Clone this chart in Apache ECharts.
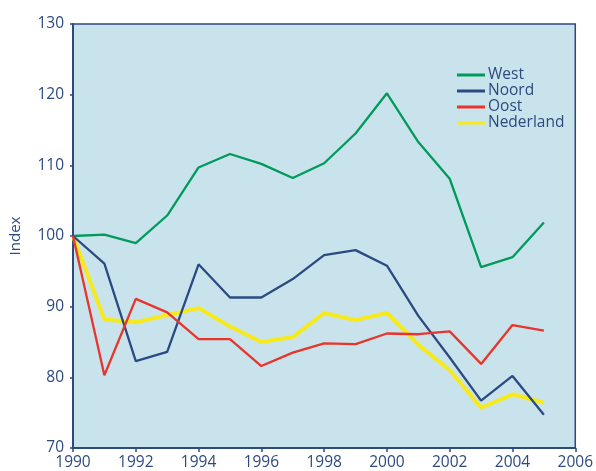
<!DOCTYPE html>
<html>
<head>
<meta charset="utf-8">
<script src="https://cdn.jsdelivr.net/npm/echarts@6/dist/echarts.min.js"></script>
<style>
    html, body { margin: 0; padding: 0; background: #fff; }
    #chart { width: 596px; height: 471px; }
</style>
</head>
<body>
<div id="chart"></div>
<script>
// jaren 1990 - 2005
const years = [1990, 1991, 1992, 1993, 1994, 1995, 1996, 1997, 1998, 1999, 2000, 2001, 2002, 2003, 2004, 2005]
const west = [100, 100.2, 99, 102.9, 109.7, 111.6, 110.2, 108.2, 110.3, 114.5, 120.2, 113.3, 108.1, 95.6, 97.0, 101.9]
const noord = [100, 96.1, 82.3, 83.6, 96.0, 91.3, 91.3, 93.9, 97.3, 98.0, 95.8, 88.7, 82.8, 76.7, 80.2, 74.7]
const oost = [100, 80.3, 91.1, 89.2, 85.4, 85.4, 81.6, 83.5, 84.8, 84.7, 86.2, 86.1, 86.5, 81.9, 87.4, 86.6]
const nederland = [100, 88.2, 87.8, 88.8, 89.8, 87.2, 85.0, 85.7, 89.1, 88.1, 89.1, 84.6, 81.0, 75.7, 77.6, 76.4]

const textColor = '#2d4a7f'
const axisColor = '#2d4a7f'

const toPairs = (vals) => vals.map((v, i) => [years[i], v])

const myChart = echarts.init(document.getElementById('chart'))
const option = {
    textStyle: { fontFamily: 'Open Sans' },
    legend: {
        orient: 'vertical',
        left: 452,
        top: 62,
        itemGap: 0,
        itemWidth: 28,
        itemHeight: 3,
        icon: 'rect',
        textStyle: { color: textColor, fontSize: 15.5, lineHeight: 16, padding: [0, 0, 0, -2] },
        data: ['West', 'Noord', 'Oost', 'Nederland']
    },
    grid: {
        left: 73,
        right: 19,
        top: 24,
        bottom: 23,
        show: true,
        backgroundColor: '#c9e3ec',
        borderColor: axisColor,
        borderWidth: 1.5
    },
    xAxis: {
        type: 'value',
        min: 1990,
        max: 2006,
        interval: 2,
        axisLine: { show: true, lineStyle: { color: axisColor, width: 2 } },
        axisTick: { show: true, length: 4, lineStyle: { color: axisColor, width: 1.5 } },
        axisLabel: { color: textColor, fontSize: 15.5, margin: 7, formatter: (v) => String(v) },
        splitLine: { show: false }
    },
    yAxis: {
        type: 'value',
        min: 70,
        max: 130,
        interval: 10,
        name: 'Index',
        nameLocation: 'middle',
        nameGap: 50,
        nameTextStyle: { color: textColor, fontSize: 15 },
        axisLine: { show: true, lineStyle: { color: axisColor, width: 2 } },
        axisTick: { show: true, length: 3, lineStyle: { color: axisColor, width: 1.5 } },
        axisLabel: { color: textColor, fontSize: 15.5, margin: 9 },
        splitLine: { show: false }
    },
    series: [
        {
            name: 'West',
            type: 'line',
            data: toPairs(west),
            showSymbol: false,
            itemStyle: { color: '#009a5a' },
            lineStyle: { color: '#009a5a', width: 2.3 }
        },
        {
            name: 'Noord',
            type: 'line',
            data: toPairs(noord),
            showSymbol: false,
            itemStyle: { color: '#2c4a82' },
            lineStyle: { color: '#2c4a82', width: 2.3 }
        },
        {
            name: 'Oost',
            type: 'line',
            data: toPairs(oost),
            showSymbol: false,
            itemStyle: { color: '#e8352b' },
            lineStyle: { color: '#e8352b', width: 2.3 }
        },
        {
            name: 'Nederland',
            type: 'line',
            data: toPairs(nederland),
            showSymbol: false,
            itemStyle: { color: '#f7ea1c' },
            lineStyle: { color: '#f7ea1c', width: 4 },
            z: 1
        }
    ]
}
myChart.setOption(option)
</script>
</body>
</html>
